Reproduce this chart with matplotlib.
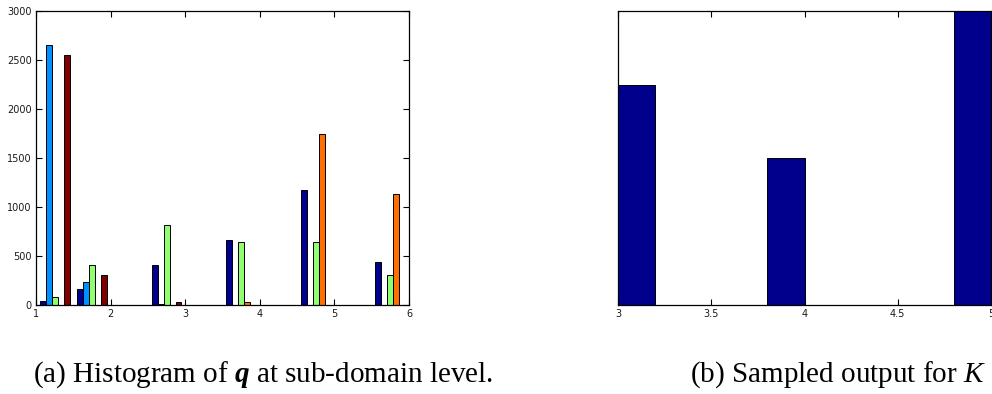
import numpy as np
import matplotlib
matplotlib.use('Agg')
import matplotlib.pyplot as plt

plt.rcParams['font.family'] = ['DejaVu Sans']
plt.rcParams['mathtext.fontset'] = 'custom'
plt.rcParams['mathtext.rm'] = 'Liberation Serif'
plt.rcParams['mathtext.it'] = 'Liberation Serif:italic'
plt.rcParams['mathtext.bf'] = 'Liberation Serif:italic:bold'

# histogram bin centres for q (10 bins over [1, 6])
bin_centers = [1.25, 1.75, 2.25, 2.75, 3.25, 3.75, 4.25, 4.75, 5.25, 5.75]
counts_s1 = [45, 165, 0, 407, 0, 668, 0, 1175, 0, 437]
counts_s2 = [2650, 232, 0, 12, 0, 0, 0, 0, 0, 0]
counts_s3 = [80, 410, 0, 817, 0, 639, 0, 642, 0, 304]
counts_s4 = [0, 0, 0, 0, 0, 27, 0, 1743, 0, 1128]
counts_s5 = [2555, 308, 0, 31, 0, 0, 0, 0, 0, 0]

# sampled output histogram (bin left edges and counts)
sample_bins = [3.0, 3.8, 4.8]
sample_counts = [3, 2, 4]

jet5 = ['#000090', '#0090ff', '#90ff70', '#ff7000', '#800000']


def matlab_axes(ax):
    ax.tick_params(direction='in', length=4, width=0.8, top=True, right=True,
                   labelsize=7, pad=3, colors='black', labelcolor='#1a1a1a')
    for s in ax.spines.values():
        s.set_linewidth(0.9)


fig = plt.figure(figsize=(9.92, 3.94), dpi=100)

# (a) grouped histogram
ax1 = fig.add_axes([36 / 992, 89 / 394, 373 / 992, 294 / 394])
series = [counts_s1, counts_s2, counts_s3, counts_s4, counts_s5]
w = 0.08
x = np.array(bin_centers)
for i, (vals, c) in enumerate(zip(series, jet5)):
    ax1.bar(x + (i - 2) * w, vals, width=w, color=c, edgecolor='black', linewidth=0.7)
ax1.set_xlim(1, 6)
ax1.set_ylim(0, 3000)
ax1.set_xticks([1, 2, 3, 4, 5, 6])
ax1.set_yticks([0, 500, 1000, 1500, 2000, 2500, 3000])
matlab_axes(ax1)

# (b) sampled output
ax2 = fig.add_axes([618 / 992, 89 / 394, 373 / 992, 294 / 394])
ax2.bar(sample_bins, sample_counts, width=0.2, align='edge', color='#00008c',
        edgecolor='black', linewidth=0.7)
ax2.set_xlim(3, 5)
ax2.set_ylim(0, 4)
ax2.set_xticks([3, 3.5, 4, 4.5, 5])
ax2.set_xticklabels(['3', '3.5', '4', '4.5', '5'])
ax2.set_yticks([])
matlab_axes(ax2)

cap = dict(fontsize=21, family='Liberation Serif', va='baseline', ha='left')
fig.text(33 / 992, 12 / 394, r'(a) Histogram of $\mathbf{q}$ at sub-domain level.', **cap)
fig.text(690 / 992, 12 / 394, r'(b) Sampled output for $K$', **cap)

fig.savefig('out.png', dpi=100)
